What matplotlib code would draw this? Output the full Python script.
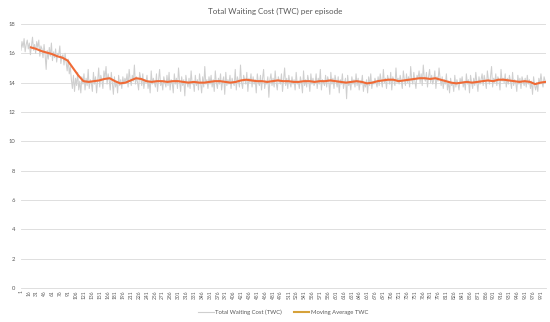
import matplotlib
matplotlib.use("Agg")
import matplotlib.pyplot as plt
from matplotlib.lines import Line2D
import numpy as np

# grey series: Total Waiting Cost, read every second episode (1, 3, 5, ...)
twc = [
  16.2,16.8,16.4,17.0,16.1,16.6,16.9,16.3,16.7,15.9,16.5,17.1,16.2,16.6,16.0,16.8,16.4,16.9,15.8,16.5,
  16.3,15.7,16.6,15.9,14.9,16.2,15.6,16.4,15.8,16.7,15.5,16.1,15.7,16.3,15.4,16.0,15.9,16.5,15.3,15.8,
  15.9,15.2,16.0,15.4,14.8,15.6,14.6,15.1,14.2,13.6,14.5,13.4,14.3,13.8,14.7,13.5,14.1,13.3,14.4,13.9,
  14.6,13.5,14.3,13.8,14.9,13.6,14.2,14.0,13.4,14.7,13.9,14.4,13.3,14.1,15.0,13.7,14.5,14.2,13.6,14.8,
  14.3,15.1,13.9,14.6,14.2,13.5,14.7,14.0,13.2,14.4,13.7,14.1,13.3,14.5,13.8,14.2,13.6,14.4,13.9,14.3,
  14.0,14.6,13.7,14.9,14.2,13.8,14.5,14.1,15.2,13.9,14.4,14.0,13.5,14.7,14.3,13.8,14.6,13.6,14.2,14.0,
  14.5,13.6,14.1,13.3,14.8,13.9,14.3,14.0,13.7,14.6,13.4,14.2,14.9,13.8,14.1,13.5,14.4,14.0,13.7,14.5,
  13.8,14.7,13.5,14.2,14.0,13.3,14.6,13.9,14.3,13.6,15.0,14.1,13.4,14.4,13.8,14.2,13.1,14.5,14.0,13.7,
  14.3,13.6,14.8,13.9,14.1,13.4,14.5,13.8,14.2,13.5,14.6,14.0,13.3,14.4,13.7,15.1,13.9,14.2,13.6,14.4,
  13.9,14.5,13.7,14.2,13.4,14.8,14.0,13.6,14.3,13.9,14.6,13.5,14.1,14.4,13.2,14.7,13.8,14.2,13.9,14.5,
  13.6,14.3,14.0,13.8,14.9,13.5,14.4,14.1,13.7,15.2,14.0,13.6,14.5,14.2,13.9,14.7,13.4,14.3,14.0,14.6,
  13.7,14.4,13.9,14.2,13.3,14.6,14.0,13.8,14.5,13.5,14.3,14.9,13.6,14.1,13.9,14.4,13.0,14.2,14.6,13.8,
  14.3,13.7,14.8,14.0,13.5,14.4,14.1,13.9,14.6,13.4,14.2,15.0,13.8,14.3,13.6,14.5,14.0,13.7,14.4,13.9,
  14.2,13.5,14.7,13.9,14.1,13.6,14.4,14.0,13.3,14.8,13.8,14.2,13.7,14.5,14.1,13.4,14.6,13.9,14.3,13.8,
  14.0,14.6,13.6,14.3,13.9,14.9,13.5,14.2,14.0,13.8,14.5,13.7,14.4,14.1,13.2,14.7,13.9,14.3,13.6,14.5,
  14.1,13.7,14.4,13.3,14.2,13.9,14.6,13.6,14.0,14.3,12.9,14.5,13.8,14.1,13.5,14.4,13.9,14.2,13.7,14.6,
  13.8,14.3,13.5,14.1,13.9,14.5,13.4,14.0,13.7,14.2,13.3,14.4,13.8,14.6,13.6,14.1,13.9,14.3,14.0,13.7,
  14.4,13.8,14.6,14.1,13.7,14.9,14.0,14.3,13.6,14.5,14.2,13.9,14.7,13.5,14.4,14.1,13.8,15.0,14.0,14.3,
  13.9,14.5,14.1,13.6,14.8,14.2,13.8,14.6,14.0,14.4,13.7,15.1,14.2,13.9,14.7,14.1,13.6,14.5,14.3,14.8,
  14.0,14.6,13.8,15.2,14.3,14.1,14.7,13.7,14.4,14.9,14.0,14.5,13.9,14.2,14.8,13.6,14.4,14.1,15.0,14.3,
  13.8,14.4,13.6,14.2,13.9,14.6,13.5,14.1,13.3,14.3,13.8,14.0,13.4,14.5,13.7,14.2,13.9,13.5,14.3,14.0,
  14.4,13.7,14.1,13.5,14.6,13.9,14.2,13.3,14.5,14.0,13.6,14.3,13.8,14.7,14.0,13.4,14.4,13.9,14.2,14.6,
  13.8,14.5,14.1,13.6,14.8,14.2,13.9,14.4,15.1,13.7,14.3,14.0,14.6,13.8,14.4,14.2,13.5,14.9,14.1,14.3,
  14.0,14.6,13.7,14.3,13.9,14.5,14.1,13.6,14.7,13.8,14.2,14.0,13.4,14.5,13.9,14.3,13.6,14.4,14.1,13.8,
  14.3,13.7,14.5,13.9,14.2,13.6,14.1,13.2,14.4,13.8,13.5,14.0,13.4,14.3,13.9,14.6,14.0,13.7,14.4,14.1,
]
twc_ep = list(range(1, 1000, 2))

# moving average, read every 10 episodes from episode 20
ma = [
  16.4,16.3,16.15,16.05,15.95,15.8,15.7,15.5,15.0,14.5,14.1,14.05,14.1,14.15,14.25,14.3,14.1,13.95,14.0,14.15,
  14.3,14.25,14.1,14.05,14.1,14.1,14.05,14.1,14.1,14.05,14.0,14.05,14.0,14.0,14.05,14.1,14.1,14.05,14.0,14.05,
  14.15,14.2,14.15,14.1,14.1,14.05,14.1,14.15,14.1,14.1,14.05,14.05,14.1,14.1,14.05,14.1,14.1,14.15,14.1,14.05,
  14.0,14.05,14.1,14.05,13.95,14.0,14.1,14.15,14.2,14.2,14.1,14.15,14.2,14.25,14.3,14.3,14.25,14.3,14.2,14.1,
  14.0,13.95,14.0,14.05,14.0,14.05,14.1,14.15,14.1,14.2,14.2,14.15,14.1,14.05,14.1,14.05,13.9,14.0,14.05,
]
ma_ep = list(range(20, 1001, 10))

xtick_labels = [str(e) for e in range(1, 1000, 15)]

txt = "#595959"
grid = "#D9D9D9"
grey = "#CFCFCF"
orange = "#F06A35"

plt.rcParams['font.family'] = ['Lato', 'DejaVu Sans']

fig = plt.figure(figsize=(5.5, 3.22), dpi=100)
ax = fig.add_axes([0.0376, 0.1056, 0.955, 0.82])

ax.plot(twc_ep, twc, color=grey, lw=0.75, zorder=2)
ax.plot(ma_ep, ma, color=orange, lw=1.5, zorder=3)

ax.set_xlim(0.5, 1000.5)
ax.set_ylim(0, 18)
ax.set_yticks(range(0, 19, 2))
ax.yaxis.grid(True, color=grid, lw=0.6)
ax.set_axisbelow(True)
ax.set_xticks(range(1, 1000, 15))
ax.set_xticklabels(xtick_labels, rotation=90, fontsize=3.5, color=txt)
ax.tick_params(axis='y', labelsize=4.2, colors=txt, length=0, pad=4)
ax.tick_params(axis='x', length=0, pad=1.5)
for s in ['top', 'right', 'left']:
  ax.spines[s].set_visible(False)
ax.spines['bottom'].set_color(grid)
ax.spines['bottom'].set_linewidth(0.6)

fig.text(0.5, 0.965, "Total Waiting Cost (TWC) per episode", ha='center', va='center',
         fontsize=5.8, color=txt)

handles = [Line2D([], [], color=grey, lw=0.8), Line2D([], [], color="#D6A23A", lw=1.5)]
fig.legend(handles, ["Total Waiting Cost (TWC)", "Moving Average TWC"], loc='center',
           bbox_to_anchor=(0.515, 0.03), ncol=2, frameon=False, fontsize=4.2,
           handlelength=2.6, columnspacing=2.0, handletextpad=0.3, labelcolor=txt)

fig.savefig("out.png", dpi=100)
